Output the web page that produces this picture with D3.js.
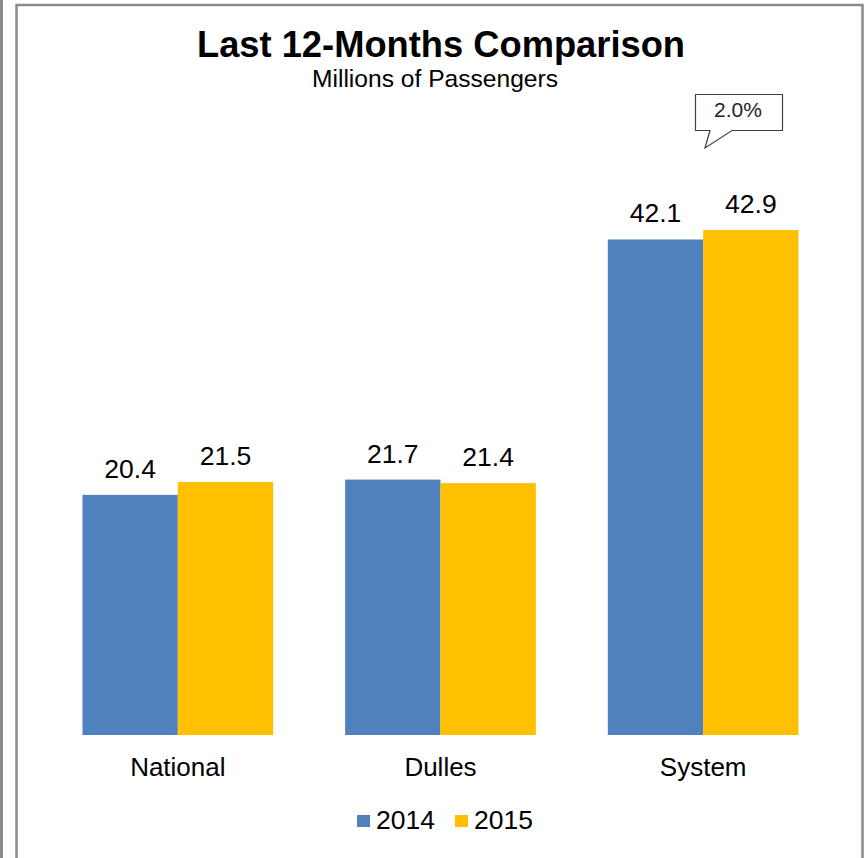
<!DOCTYPE html>
<html>
<head>
<meta charset="utf-8">
<script src="https://cdn.jsdelivr.net/npm/d3@7"></script>
<style>
  body { margin: 0; background: #fff; }
  svg { display: block; font-family: "Liberation Sans", Arial, sans-serif; }
</style>
</head>
<body>
<div id="chart"></div>
<script>
// data
const categories = ["National", "Dulles", "System"];
const years = ["2014", "2015"];
const values2014 = [20.4, 21.7, 42.1];
const values2015 = [21.5, 21.4, 42.9];
const changeLabel = "2.0%";

const colors = { "2014": "#4F81BD", "2015": "#FFC000" };

const W = 866, H = 858;
const svg = d3.select("#chart").append("svg")
    .attr("width", W)
    .attr("height", H);

// outer frames
svg.append("line")
    .attr("x1", 1.5).attr("x2", 1.5).attr("y1", 0).attr("y2", H)
    .attr("stroke", "#8a8a8a").attr("stroke-width", 3);
svg.append("path")
    .attr("d", `M16.5,${H} V5 H862.5 V${H}`)
    .attr("fill", "none")
    .attr("stroke", "#8a8a8a").attr("stroke-width", 2.5);

const baseline = 735;

// scales
const x = d3.scaleBand()
    .domain(categories)
    .range([46.5, 834.5])
    .paddingInner(0.274)
    .paddingOuter(0.137);

const x1 = d3.scaleBand()
    .domain(years)
    .range([0, x.bandwidth()]);

const y = d3.scaleLinear()
    .domain([0, 50])
    .range([baseline, baseline - 50 * 11.77]);

const rows = categories.map((c, i) => ({
    cat: c,
    vals: [
        { year: "2014", v: values2014[i] },
        { year: "2015", v: values2015[i] }
    ]
}));

const groups = svg.selectAll(".grp")
    .data(rows)
    .enter().append("g")
    .attr("class", "grp")
    .attr("transform", d => `translate(${x(d.cat)},0)`);

groups.selectAll("rect")
    .data(d => d.vals)
    .enter().append("rect")
    .attr("x", d => x1(d.year))
    .attr("y", d => y(d.v))
    .attr("width", x1.bandwidth())
    .attr("height", d => baseline - y(d.v))
    .attr("fill", d => colors[d.year]);

// value labels
groups.selectAll(".val")
    .data(d => d.vals)
    .enter().append("text")
    .attr("class", "val")
    .attr("x", d => x1(d.year) + x1.bandwidth() / 2)
    .attr("y", d => y(d.v) - 17)
    .attr("text-anchor", "middle")
    .style("font-size", "26.5px")
    .style("fill", "#000")
    .text(d => d.v.toFixed(1));

// category axis labels
svg.append("g")
    .attr("transform", `translate(0,${baseline})`)
    .call(d3.axisBottom(x).tickSize(0).tickPadding(0))
    .call(g => g.select(".domain").remove())
    .selectAll("text")
    .attr("y", 41)
    .attr("dy", 0)
    .style("font-size", "26px")
    .style("font-family", "'Liberation Sans', Arial, sans-serif")
    .style("fill", "#000");

// title
svg.append("text")
    .attr("x", 441).attr("y", 57)
    .attr("text-anchor", "middle")
    .style("font-size", "36.3px")
    .style("font-weight", "bold")
    .text("Last 12-Months Comparison");

svg.append("text")
    .attr("x", 435).attr("y", 87)
    .attr("text-anchor", "middle")
    .style("font-size", "24.6px")
    .text("Millions of Passengers");

// callout for System change
const bx0 = 695.5, bx1 = 782.5, by0 = 94.5, by1 = 130.5;
svg.append("path")
    .attr("d", `M${bx0},${by0} H${bx1} V${by1} H732 L705,148 L710,${by1} H${bx0} Z`)
    .attr("fill", "#fff")
    .attr("stroke", "#404040")
    .attr("stroke-width", 1.2);
svg.append("text")
    .attr("x", 738).attr("y", 117)
    .attr("text-anchor", "middle")
    .style("font-size", "21px")
    .style("fill", "#222")
    .text(changeLabel);

// legend
const legend = svg.append("g").attr("transform", "translate(357,815)");
const legendX = [0, 98];
years.forEach((yr, i) => {
    legend.append("rect")
        .attr("x", legendX[i]).attr("y", 0)
        .attr("width", 13).attr("height", 12)
        .attr("fill", colors[yr]);
    legend.append("text")
        .attr("x", legendX[i] + 19).attr("y", 14)
        .style("font-size", "26.5px")
        .text(yr);
});
</script>
</body>
</html>
